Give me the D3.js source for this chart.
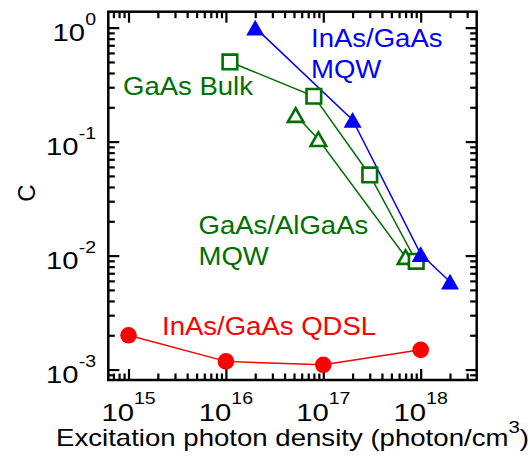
<!DOCTYPE html>
<html>
<head>
<meta charset="utf-8">
<script src="https://cdn.jsdelivr.net/npm/d3@7"></script>
<style>
	body { margin: 0; background: #fff; }
	text { font-family: "Liberation Sans", Arial, sans-serif; }
</style>
</head>
<body>
<div id="chart-area"></div>
<script>
// Data
let mqwX = [2e16, 2e17, 1e18, 2e18];
let mqwY = [1.0, 0.155, 0.0103, 0.0059];
let bulkX = [1.1e16, 8e16, 3e17, 9e17];
let bulkY = [0.5, 0.25, 0.051, 0.0089];
let algaasX = [5.2e16, 8.9e16, 7e17];
let algaasY = [0.171, 0.105, 0.0097];
let qdslX = [1e15, 1e16, 1e17, 1e18];
let qdslY = [0.002, 0.00118, 0.0011, 0.00149];
let xTickExps = [15, 16, 17, 18];
let yTickExps = [0, -1, -2, -3];

let blue = "#0000ff", green = "#007000", red = "#ff0000";

// SVG drawing space
let margin = {top: 11.7, right: 54.3, bottom: 77, left: 108.3};
let width = 531 - margin.left - margin.right;
let height = 457 - margin.top - margin.bottom;
let root = d3.select("#chart-area")
	.append("svg")
	.attr("width", 531)
	.attr("height", 457);
let svg = root.append("g")
	.attr("transform", "translate(" + margin.left + "," + margin.top + ")");

// Scales
let x = d3.scaleLog()
	.domain([6.2e14, 3.76e18])
	.range([0, width]);
let y = d3.scaleLog()
	.domain([8.1e-4, 1.38])
	.range([height, 0]);

// Major and minor tick values
function minorTicks(scale, lo, hi) {
	let out = [];
	let dom = scale.domain();
	for (let e = lo; e <= hi; e++) {
		for (let k = 2; k <= 9; k++) {
			let v = k * Math.pow(10, e);
			if (v > dom[0] && v < dom[1]) out.push(v);
		}
	}
	return out;
}
let xMajor = xTickExps.map(e => Math.pow(10, e));
let yMajor = yTickExps.map(e => Math.pow(10, e));
let xMinor = minorTicks(x, 14, 18);
let yMinor = minorTicks(y, -4, 0);

// Inward ticks on all four sides
function drawTicks(axis, scale, values, size, tx, ty) {
	let g = svg.append("g")
		.attr("transform", "translate(" + tx + "," + ty + ")")
		.call(axis(scale).tickValues(values).tickSize(-size).tickSizeOuter(0).tickFormat(""));
	g.select(".domain").remove();
	g.selectAll("line").attr("stroke", "#000").attr("stroke-width", 2.2);
}
[[xMajor, 11], [xMinor, 6.5]].forEach(([vals, s]) => {
	drawTicks(d3.axisBottom, x, vals, s, 0, height);
	drawTicks(d3.axisTop, x, vals, s, 0, 0);
});
[[yMajor, 11], [yMinor, 6.5]].forEach(([vals, s]) => {
	drawTicks(d3.axisLeft, y, vals, s, 0, 0);
	drawTicks(d3.axisRight, y, vals, s, width, 0);
});

// Frame
svg.append("rect")
	.attr("width", width)
	.attr("height", height)
	.attr("fill", "none")
	.attr("stroke", "#000")
	.attr("stroke-width", 2.5);

// Text stretched horizontally like the original
function stretchText(px, py, sx, anchor, size, color) {
	return root.append("g")
		.attr("transform", "translate(" + px + "," + py + ") scale(" + sx + ",1)")
		.append("text")
		.attr("text-anchor", anchor)
		.attr("font-size", size)
		.attr("fill", color);
}
function powerLabel(t, exp, baseSize, supSize, rise) {
	t.append("tspan").text("10");
	t.append("tspan")
		.attr("font-size", supSize)
		.attr("dy", -rise)
		.text(exp < 0 ? "-" + (-exp) : exp);
}

// Tick labels
xTickExps.forEach(e => {
	let t = stretchText(margin.left + x(Math.pow(10, e)), 420.7, 1.22, "middle", 24, "#000");
	powerLabel(t, e, 24, 16, 17);
});
yTickExps.forEach(e => {
	let t = stretchText(96, margin.top + y(Math.pow(10, e)) + 13.7, 1.22, "end", 24, "#000");
	powerLabel(t, e, 24, 16, 16);
});

// Axis titles
let xt = stretchText(margin.left + width / 2, 445.5, 1.2, "middle", 23, "#000");
xt.append("tspan").text("Excitation photon density (photon/cm");
xt.append("tspan").attr("font-size", 17).attr("dy", -13).text("3");
xt.append("tspan").attr("dy", 13).text(")");

root.append("text")
	.attr("transform", "translate(35,193) rotate(-90)")
	.attr("text-anchor", "middle")
	.attr("font-size", 24)
	.text("C");

// Series lines
function drawLine(xs, ys, color) {
	let line = d3.line()
		.x(d => x(d[0]))
		.y(d => y(d[1]));
	svg.append("path")
		.datum(xs.map((v, i) => [v, ys[i]]))
		.attr("fill", "none")
		.attr("stroke", color)
		.attr("stroke-width", 1.5)
		.attr("d", line);
}
drawLine(algaasX, algaasY, green);
drawLine(bulkX, bulkY, green);
drawLine(mqwX, mqwY, blue);
drawLine(qdslX, qdslY, red);

// Markers
function drawMarkers(xs, ys, shape, fill, stroke, sw) {
	svg.selectAll(null)
		.data(xs.map((v, i) => [v, ys[i]]))
		.enter()
		.append("path")
		.attr("transform", d => "translate(" + x(d[0]) + "," + y(d[1]) + ")")
		.attr("d", shape)
		.attr("fill", fill)
		.attr("stroke", stroke)
		.attr("stroke-width", sw);
}
let openTri = "M0,-6.8L7.8,6.8L-7.8,6.8Z";
let openSq = "M-7.3,-7.3H7.3V7.3H-7.3Z";
let fullTri = "M0,-8L9,7.8L-9,7.8Z";
drawMarkers(algaasX, algaasY, openTri, "#fff", green, 2.6);
drawMarkers(bulkX, bulkY, openSq, "#fff", green, 2.6);
drawMarkers(mqwX, mqwY, fullTri, blue, "none", 0);
svg.selectAll(null)
	.data(qdslX.map((v, i) => [v, qdslY[i]]))
	.enter()
	.append("circle")
	.attr("cx", d => x(d[0]))
	.attr("cy", d => y(d[1]))
	.attr("r", 8.3)
	.attr("fill", red);

// Annotations
let notes = [
	{lines: ["InAs/GaAs", "MQW"], px: 311, py: 46.7, color: blue},
	{lines: ["GaAs Bulk"], px: 123, py: 95, color: green},
	{lines: ["GaAs/AlGaAs", "MQW"], px: 198.5, py: 233.5, color: green},
	{lines: ["InAs/GaAs QDSL"], px: 162, py: 335, color: red}
];
notes.forEach(n => {
	n.lines.forEach((s, i) => {
		stretchText(n.px, n.py + i * 31.6, 1.08, "start", 25.5, n.color).text(s);
	});
});
</script>
</body>
</html>
